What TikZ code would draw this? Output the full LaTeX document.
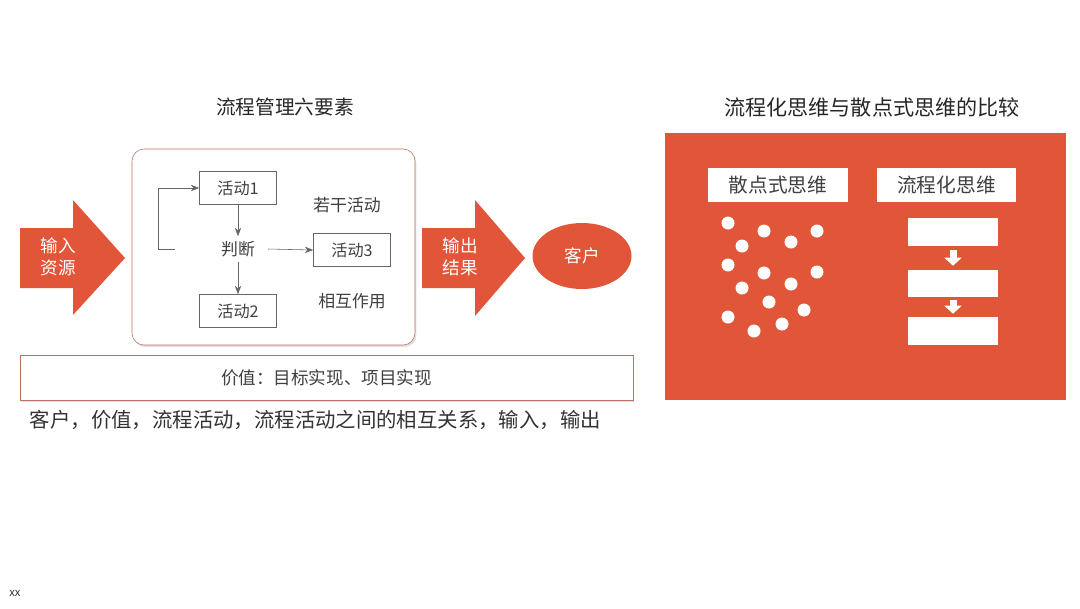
\documentclass[tikz,border=0pt]{standalone}
\usepackage{fontspec}
\setmainfont{Noto Sans CJK SC}
\usetikzlibrary{positioning, arrows.meta, shapes.geometric, shadows}

\definecolor{flame}{RGB}{225,85,57}
\definecolor{rim}{RGB}{190,112,96}
\definecolor{ink}{RGB}{64,64,64}
\newcommand{\pu}{0.025cm}

\begin{document}
\begin{tikzpicture}[
  x=0.025cm, y=-0.025cm,
  heading/.style={text=black!85, font=\fontsize{14}{16}\selectfont},
  actbox/.style={rectangle, draw=ink!80, fill=white, minimum width=77*\pu, minimum height=33*\pu, text=ink, font=\fontsize{11.5}{13}\selectfont},
  note/.style={text=ink, font=\fontsize{12}{14}\selectfont},
  flow/.style={-{Stealth[length=6pt, width=4.5pt]}, draw=ink!80, thin},
  tag/.style={text=white, align=center, font=\fontsize{12.5}{16}\selectfont},
  whitebox/.style={rectangle, fill=white, text=ink, font=\fontsize{14}{16}\selectfont},
  step arrow/.style={white, line width=7*\pu, -{Triangle[length=8*\pu, width=17*\pu]}}
]
  \useasboundingbox (0,0) rectangle (1080,608);

  % titles
  \node[heading] (lefttitle) at (285,107) {流程管理六要素};
  \node[heading, font=\fontsize{15}{17}\selectfont] (righttitle) at (872,107) {流程化思维与散点式思维的比较};

  % six elements
  \node[rectangle, draw=rim, fill=white, rounded corners=12*\pu, minimum width=283*\pu, minimum height=196*\pu,
        drop shadow={shadow xshift=1pt, shadow yshift=-1.5pt, opacity=0.25}] (frame) at (273.5,247) {};

  \fill[flame] (20,228) -- (73,228) -- (73,200) -- (125,258) -- (73,315) -- (73,288) -- (20,288) -- cycle;
  \node[tag] (input) at (58,257) {输入\\资源};

  \node[actbox] (act1) at (238,188) {活动1};
  \node[note] (judge) at (238,249) {判断};
  \node[actbox] (act2) at (238,311) {活动2};
  \node[actbox] (act3) at (352,250) {活动3};
  \node[note] (many) at (347,205) {若干活动};
  \node[note] (mutual) at (352,301) {相互作用};

  \coordinate (loopin) at (175,249);
  \coordinate (loop) at (158,249);
  \draw[flow] (act1.south) -- (judge.north);
  \draw[flow] (judge.south) -- (act2.north);
  \draw[flow] ([xshift=8*\pu]judge.east) -- (act3.west);
  \draw[flow] (loopin) -- (loop) |- (act1.west);

  \fill[flame] (422,228) -- (475,228) -- (475,200) -- (525,258) -- (475,316) -- (475,288) -- (422,288) -- cycle;
  \node[tag] (output) at (460,257) {输出\\结果};

  \node[ellipse, fill=flame, minimum width=99*\pu, minimum height=66*\pu, tag] (client) at (582,256) {客户};

  \node[rectangle, draw=rim, fill=white, minimum width=613*\pu, minimum height=45*\pu, text=ink,
        font=\fontsize{12.5}{14}\selectfont,
        drop shadow={shadow xshift=1pt, shadow yshift=-1.5pt, opacity=0.25}] (value) at (326.5,377.5) {价值：目标实现、项目实现};

  \node[anchor=west, text=black!80, font=\fontsize{14.5}{16}\selectfont] (summary) at (25,420)
    {客户，价值，流程活动，流程活动之间的相互关系，输入，输出};

  % comparison
  \node[rectangle, fill=flame, minimum width=401*\pu, minimum height=267*\pu] (panel) at (865.5,266.5) {};
  \node[whitebox, minimum width=140*\pu, minimum height=34*\pu] (scatter) at (778,185) {散点式思维};
  \node[whitebox, minimum width=139*\pu, minimum height=34*\pu] (process) at (946.5,185) {流程化思维};

  \foreach \dx/\dy in {728/223, 764/231, 817/231, 742/246, 791/242, 728/265, 764/273, 817/272,
                       742/288, 791/284, 769/302, 804/310, 728/317, 782/324, 754/331}
    \fill[white] (\dx,\dy) circle[radius=6.5*\pu];

  \node[whitebox, minimum width=90*\pu, minimum height=28*\pu] (f1) at (953,232) {};
  \node[whitebox, minimum width=90*\pu, minimum height=27*\pu] (f2) at (953,283.5) {};
  \node[whitebox, minimum width=90*\pu, minimum height=28*\pu] (f3) at (953,331) {};
  \draw[step arrow] ([yshift=-4*\pu]f1.south) -- ([yshift=4*\pu]f2.north);
  \draw[step arrow] ([yshift=-3*\pu]f2.south) -- ([yshift=3*\pu]f3.north);

  \node[text=black!80, font=\fontsize{8}{9}\selectfont] (foot) at (15,593) {xx};
\end{tikzpicture}
\end{document}
